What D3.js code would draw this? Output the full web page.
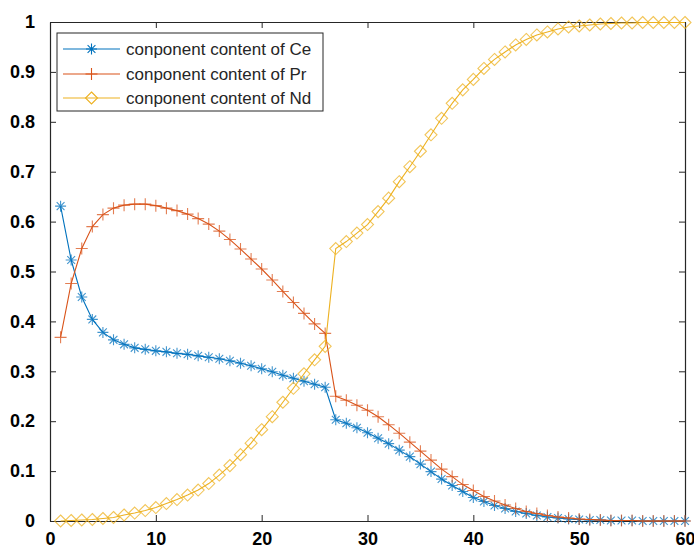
<!DOCTYPE html>
<html lang="en">
<head>
    <meta charset="UTF-8">
    <title>Component content</title>
    <style>
        body {
            margin: 0;
            background: white;
            font-family: 'Liberation Sans', Arial, sans-serif;
        }
        .tick text {
            font-weight: bold;
            font-size: 18px;
            fill: #000;
        }
        .legend text {
            font-size: 17px;
            fill: #262626;
        }
    </style>
    <script src="https://d3js.org/d3.v7.min.js"></script>
</head>
<body>
    <div id="chart"></div>
    <script>
        const steps = [1, 2, 3, 4, 5, 6, 7, 8, 9, 10, 11, 12, 13, 14, 15, 16, 17, 18, 19, 20,
            21, 22, 23, 24, 25, 26, 27, 28, 29, 30, 31, 32, 33, 34, 35, 36, 37, 38, 39, 40,
            41, 42, 43, 44, 45, 46, 47, 48, 49, 50, 51, 52, 53, 54, 55, 56, 57, 58, 59, 60];

        const ceValues = [0.631, 0.523, 0.449, 0.404, 0.378, 0.363, 0.354, 0.347, 0.344, 0.341,
            0.339, 0.336, 0.334, 0.331, 0.328, 0.325, 0.321, 0.316, 0.311, 0.305,
            0.299, 0.292, 0.286, 0.280, 0.274, 0.268, 0.203, 0.196, 0.187, 0.177,
            0.166, 0.155, 0.142, 0.129, 0.114, 0.099, 0.084, 0.071, 0.059, 0.047,
            0.039, 0.031, 0.025, 0.019, 0.015, 0.011, 0.008, 0.006, 0.004, 0.003,
            0.002, 0.002, 0.001, 0.001, 0.001, 0, 0, 0, 0, 0];

        const prValues = [0.368, 0.476, 0.546, 0.590, 0.614, 0.627, 0.633, 0.635, 0.635, 0.632,
            0.627, 0.622, 0.615, 0.606, 0.595, 0.581, 0.564, 0.545, 0.525, 0.505,
            0.483, 0.460, 0.438, 0.416, 0.395, 0.376, 0.250, 0.242, 0.232, 0.222,
            0.209, 0.193, 0.176, 0.158, 0.140, 0.122, 0.104, 0.089, 0.073, 0.061,
            0.049, 0.040, 0.032, 0.025, 0.019, 0.015, 0.011, 0.008, 0.006, 0.004,
            0.003, 0.002, 0.001, 0.001, 0.001, 0, 0, 0, 0, 0];

        const ndValues = [0.000, 0.001, 0.002, 0.003, 0.005, 0.007, 0.012, 0.016, 0.021, 0.027,
            0.035, 0.043, 0.052, 0.062, 0.075, 0.092, 0.111, 0.133, 0.156, 0.183,
            0.209, 0.238, 0.266, 0.295, 0.323, 0.350, 0.546, 0.560, 0.577, 0.594,
            0.620, 0.647, 0.680, 0.710, 0.741, 0.774, 0.807, 0.837, 0.864, 0.885,
            0.907, 0.925, 0.940, 0.954, 0.965, 0.974, 0.980, 0.986, 0.990, 0.992,
            0.994, 0.996, 0.997, 0.998, 0.998, 0.999, 0.999, 0.999, 0.999, 0.999];

        const seriesNames = ["conponent content of Ce", "conponent content of Pr", "conponent content of Nd"];
        const xTicks = [0, 10, 20, 30, 40, 50, 60];
        const yTicks = [0, 0.1, 0.2, 0.3, 0.4, 0.5, 0.6, 0.7, 0.8, 0.9, 1];

        const width = 694, height = 552;
        const margin = { top: 22, right: 9, bottom: 31, left: 50 };
        const innerW = width - margin.left - margin.right;
        const innerH = height - margin.top - margin.bottom;

        const series = [
            { name: seriesNames[0], values: ceValues, color: "#0072BD", marker: "asterisk" },
            { name: seriesNames[1], values: prValues, color: "#D95319", marker: "plus" },
            { name: seriesNames[2], values: ndValues, color: "#EDB120", marker: "diamond" }
        ];

        const svg = d3.select("#chart")
            .append("svg")
            .attr("width", width)
            .attr("height", height);

        const g = svg.append("g")
            .attr("transform", `translate(${margin.left},${margin.top})`);

        const x = d3.scaleLinear().domain([0, 60]).range([0, innerW]);
        const y = d3.scaleLinear().domain([0, 1]).range([innerH, 0]);

        // axes: ticks pointing inward, mirrored on top and right
        const axisColor = "#262626";
        const xAxis = g.append("g")
            .attr("transform", `translate(0,${innerH})`)
            .call(d3.axisBottom(x).tickValues(xTicks).tickFormat(d3.format("d"))
                .tickSizeInner(-6).tickSizeOuter(0).tickPadding(14));
        const yAxis = g.append("g")
            .call(d3.axisLeft(y).tickValues(yTicks).tickFormat(d => d === 0 || d === 1 ? d : d.toFixed(1))
                .tickSizeInner(-6).tickSizeOuter(0).tickPadding(15));
        const xTop = g.append("g")
            .call(d3.axisTop(x).tickValues(xTicks).tickFormat("").tickSizeInner(-6).tickSizeOuter(0));
        const yRight = g.append("g")
            .attr("transform", `translate(${innerW},0)`)
            .call(d3.axisRight(y).tickValues(yTicks).tickFormat("").tickSizeInner(-6).tickSizeOuter(0));

        [xAxis, yAxis, xTop, yRight].forEach(a => {
            a.select(".domain").attr("stroke", axisColor).attr("stroke-width", 1.2);
            a.selectAll(".tick line").attr("stroke", axisColor);
            a.selectAll(".tick text").attr("font-family", null).attr("font-size", null);
        });
        xAxis.selectAll(".tick text").attr("dy", "0.55em");

        function markerPath(type) {
            if (type === "asterisk") {
                const r = 5.5, d = 3.9;
                return `M${-r},0L${r},0M0,${-r}L0,${r}M${-d},${-d}L${d},${d}M${-d},${d}L${d},${-d}`;
            }
            if (type === "plus") {
                const r = 6;
                return `M${-r},0L${r},0M0,${-r}L0,${r}`;
            }
            const r = 6;
            return `M0,${-r}L${r},0L0,${r}L${-r},0Z`;
        }

        const line = d3.line()
            .x((d, i) => x(steps[i]))
            .y(d => y(d));

        series.forEach(s => {
            const sg = g.append("g");
            sg.append("path")
                .attr("d", line(s.values))
                .attr("fill", "none")
                .attr("stroke", s.color)
                .attr("stroke-width", 1.1);
            sg.selectAll("path.mk")
                .data(s.values)
                .enter()
                .append("path")
                .attr("class", "mk")
                .attr("transform", (d, i) => `translate(${x(steps[i])},${y(d)})`)
                .attr("d", markerPath(s.marker))
                .attr("fill", "none")
                .attr("stroke", s.color)
                .attr("stroke-width", 1.1)
                .attr("stroke-opacity", 0.75);
        });

        // legend
        const legend = svg.append("g").attr("class", "legend")
            .attr("transform", "translate(57,33)");
        legend.append("rect")
            .attr("width", 266)
            .attr("height", 78)
            .attr("fill", "white")
            .attr("stroke", axisColor)
            .attr("stroke-width", 1);
        const rows = [16, 41, 65];
        series.forEach((s, i) => {
            const row = legend.append("g").attr("transform", `translate(0,${rows[i]})`);
            row.append("line")
                .attr("x1", 6).attr("x2", 63)
                .attr("stroke", s.color)
                .attr("stroke-width", 1.1);
            row.append("path")
                .attr("transform", "translate(34.5,0)")
                .attr("d", markerPath(s.marker))
                .attr("fill", "none")
                .attr("stroke", s.color)
                .attr("stroke-width", 1.1);
            row.append("text")
                .attr("x", 69)
                .attr("dy", "0.35em")
                .text(s.name);
        });
    </script>
</body>
</html>
